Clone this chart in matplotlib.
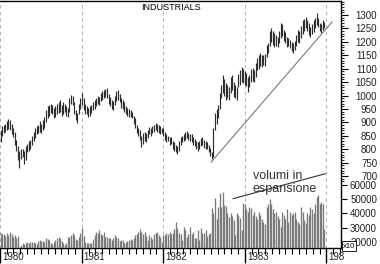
import matplotlib
matplotlib.use("Agg")
import matplotlib.pyplot as plt
import matplotlib.dates as mdates
import pandas as pd
from matplotlib.ticker import FixedLocator
from matplotlib.transforms import Bbox, TransformedBbox, ScaledTranslation

plt.rcParams['font.family'] = ['Liberation Sans', 'DejaVu Sans']

# weekly bars, Dow Jones Industrials, Jan 1980 - Dec 1983
first_week = '1980-01-04'

week_high = [
    870, 885, 890, 895, 905, 912, 910, 895, 880, 865, 835, 810, 795,
    800, 800, 795, 810, 820, 830, 835, 850, 865, 880, 885, 890, 905,
    895, 910, 920, 945, 960, 965, 970, 965, 955, 960, 970, 975, 985,
    965, 975, 970, 960, 955, 990, 1002, 1000, 975, 945, 935, 970, 990,
    1010, 990, 970, 960, 955, 960, 965, 975, 985, 990, 1000, 995, 1010,
    1015, 1020, 1025, 1028, 1005, 995, 985, 980, 1000, 1015, 1020, 1005, 990,
    985, 975, 960, 955, 950, 945, 940, 925, 915, 890, 880, 870, 850,
    860, 864, 860, 870, 882, 880, 885, 890, 897, 895, 890, 885, 880,
    880, 865, 855, 850, 845, 845, 830, 825, 815, 810, 830, 845, 849,
    855, 864, 868, 860, 858, 855, 845, 838, 830, 825, 830, 840, 845,
    835, 830, 825, 815, 805, 790, 880, 935, 950, 965, 1010, 1040, 1076,
    1060, 1046, 1040, 1030, 1070, 1076, 1050, 1040, 1030, 1080, 1095, 1106, 1100,
    1090, 1085, 1069, 1075, 1100, 1102, 1095, 1120, 1140, 1150, 1158, 1150, 1150,
    1155, 1188, 1195, 1240, 1252, 1240, 1233, 1225, 1218, 1240, 1270, 1265, 1244,
    1235, 1218, 1215, 1207, 1200, 1195, 1205, 1225, 1244, 1240, 1260, 1281, 1285,
    1293, 1280, 1270, 1255, 1265, 1281, 1290, 1307, 1290, 1270, 1265, 1281, 1275,
]

week_low = [
    825, 850, 860, 865, 870, 875, 870, 855, 845, 815, 795, 760, 728,
    765, 770, 745, 760, 790, 795, 800, 815, 830, 840, 855, 860, 865,
    860, 870, 880, 900, 915, 925, 935, 930, 915, 920, 930, 935, 940,
    925, 930, 940, 925, 920, 940, 970, 965, 930, 910, 897, 930, 950,
    965, 945, 930, 930, 920, 925, 935, 945, 950, 960, 970, 965, 980,
    985, 990, 995, 990, 970, 960, 950, 945, 965, 980, 985, 975, 955,
    950, 940, 930, 925, 920, 920, 915, 895, 880, 860, 850, 835, 808,
    820, 830, 825, 840, 855, 850, 860, 865, 870, 865, 860, 855, 860,
    850, 835, 825, 830, 815, 820, 800, 795, 790, 781, 795, 815, 826,
    830, 835, 840, 835, 830, 825, 815, 810, 800, 795, 800, 810, 815,
    805, 800, 800, 790, 775, 765, 770, 870, 895, 915, 950, 990, 1010,
    1000, 985, 990, 985, 1010, 1020, 995, 990, 983, 1030, 1040, 1050, 1045,
    1040, 1035, 1013, 1030, 1050, 1055, 1050, 1070, 1095, 1100, 1110, 1106, 1115,
    1110, 1143, 1160, 1185, 1200, 1190, 1180, 1185, 1180, 1195, 1215, 1220, 1205,
    1195, 1180, 1185, 1177, 1165, 1158, 1170, 1185, 1200, 1195, 1215, 1230, 1240,
    1250, 1240, 1225, 1218, 1230, 1237, 1250, 1263, 1255, 1240, 1233, 1245, 1252,
]

week_volume = [
    26300, 25800, 25600, 24000, 26300, 25000, 27300, 25600, 23500, 24900, 22800, 24000, 16500,
    18000, 19300, 18600, 19000, 20000, 19500, 20000, 19800, 20000, 19300, 18800, 20500, 21400,
    20700, 20700, 20000, 22800, 22000, 21400, 19300, 18500, 20000, 21400, 22500, 23500, 22800,
    20500, 19300, 17900, 19500, 23500, 23500, 25000, 26300, 24900, 22000, 21400, 23500, 26000,
    30000, 24000, 20000, 19300, 19000, 19300, 19300, 22000, 24900, 27000, 26300, 28400, 25500,
    24900, 27000, 23500, 23500, 22800, 22500, 21400, 22800, 24900, 23500, 22800, 21000, 21400,
    21400, 19300, 20000, 20700, 21400, 22000, 21400, 22500, 24900, 25600, 27000, 29100, 27000,
    25600, 27000, 24000, 21400, 24900, 23500, 22000, 25600, 26300, 27000, 24900, 23500, 20000,
    24900, 24900, 26300, 25600, 27000, 25600, 26000, 29100, 34000, 29800, 26300, 25600, 21400,
    30500, 28400, 23500, 25600, 30500, 25600, 27000, 23000, 22800, 28400, 21400, 29800, 26300,
    26300, 28400, 24000, 25600, 26300, 43900, 40400, 50900, 36000, 44600, 54400, 44600, 55100,
    46000, 45000, 40400, 37500, 40400, 38000, 35400, 24900, 40400, 39000, 36500, 28400, 47400,
    46700, 43200, 41100, 44600, 44000, 39000, 41100, 38000, 36100, 41100, 39000, 36100, 34000,
    32600, 44600, 46700, 50200, 47000, 43200, 40400, 41100, 38000, 36100, 30500, 41100, 39000,
    36100, 43200, 34000, 41100, 39000, 40400, 41100, 36100, 34000, 32600, 44600, 41100, 35400,
    33000, 40400, 39000, 44600, 43200, 40400, 46700, 51600, 53000, 46700, 48100, 47000, 29100,
]

trend_dates = ['1982-08-03', '1984-01-26']
trend_prices = [752, 1274]
note_dates = ['1982-11-09', '1983-12-26']
note_volumes = [50400, 67900]
note_text = 'volumi in\nespansione'
title = 'INDUSTRIALS'
years = ['1980', '1981', '1982', '1983', '1984']
price_ticks = list(range(700, 1301, 50))
volume_ticks = [20000, 30000, 40000, 50000, 60000]

weeks = pd.date_range(first_week, periods=len(week_high), freq='W-FRI')

fig = plt.figure(figsize=(3.8, 2.64), dpi=100)
ax = fig.add_axes([0, 16 / 264, 341 / 380, 247.5 / 264])
ax.set_xlim(pd.Timestamp('1980-01-01'), pd.Timestamp('1984-03-06'))
ax.set_ylim(431.7, 1354.1)
ax2 = ax.twinx()
ax2.set_ylim(15790, 189470)

# year grid
for y in years:
    ax.axvline(pd.Timestamp(y + '-01-01'), color='#b4b4b4', lw=0.8,
               ls=(0, (3, 3)), zorder=0)

# price bars and trend line
ax.vlines(weeks, week_low, week_high, color='#2e2e2e', lw=0.85)
ax.plot(pd.to_datetime(trend_dates), trend_prices, color='#7a7a7a', lw=0.8)

# volume bars
ax2.vlines(weeks, 0, week_volume, color='#7a7a7a', lw=0.95)
ax2.plot(pd.to_datetime(note_dates), note_volumes, color='#333333', lw=0.8)
ax2.text(pd.Timestamp('1983-02-06'), 70500, note_text, fontsize=9,
         ha='left', va='top', color='#333333', linespacing=1.1)

# spines
ax.spines['left'].set_visible(False)
for s in ax2.spines.values():
    s.set_visible(False)
for s in ['top', 'right', 'bottom']:
    ax.spines[s].set_color('black')
    ax.spines[s].set_linewidth(1.0)

# price axis (right)
ax.yaxis.tick_right()
ax.set_yticks(price_ticks, labels=[str(p) for p in price_ticks])
ax.yaxis.set_minor_locator(FixedLocator(range(680, 1351, 10)))
ax.tick_params(axis='y', which='major', direction='out', length=5, width=0.8,
               pad=21, labelsize=7, labelcolor='#222222')
ax.tick_params(axis='y', which='minor', direction='out', length=2.2, width=0.6)
plt.setp(ax.get_yticklabels(), ha='right')

# volume axis (right)
ax2.set_yticks(volume_ticks, labels=[str(v) for v in volume_ticks])
ax2.tick_params(axis='y', which='major', direction='out', length=4.3, width=0.8,
                pad=21.6, labelsize=7, labelcolor='#222222')
plt.setp(ax2.get_yticklabels(), ha='right')

# time axis
ax.xaxis.set_major_locator(mdates.YearLocator())
ax.xaxis.set_minor_locator(mdates.MonthLocator())
ax.tick_params(axis='x', which='major', direction='out', length=10.8, width=1.0,
               labelbottom=False)
ax.tick_params(axis='x', which='minor', direction='out', length=4.3, width=0.8)

shift = ScaledTranslation(2 / 100, 0, fig.dpi_scale_trans)
clip = TransformedBbox(Bbox([[0, 0], [344 / 380, 1]]), fig.transFigure)
for y in years:
    t = ax.text(pd.Timestamp(y + '-01-01'), -9 / 247.5, y, fontsize=7,
                ha='left', va='center', color='#222222',
                transform=ax.get_xaxis_transform() + shift)
    t.set_clip_box(clip)
    t.set_clip_on(True)

fig.text(170.5 / 380, 1 - 8 / 264, title, fontsize=6.5, ha='center', va='center')
fig.text(343 / 380, 1 - 246 / 264, 'x10', fontsize=5.5, ha='left', va='center',
         bbox=dict(boxstyle='square,pad=0.15', fc='white', ec='black', lw=0.6))

fig.savefig('out.png', dpi=100)
